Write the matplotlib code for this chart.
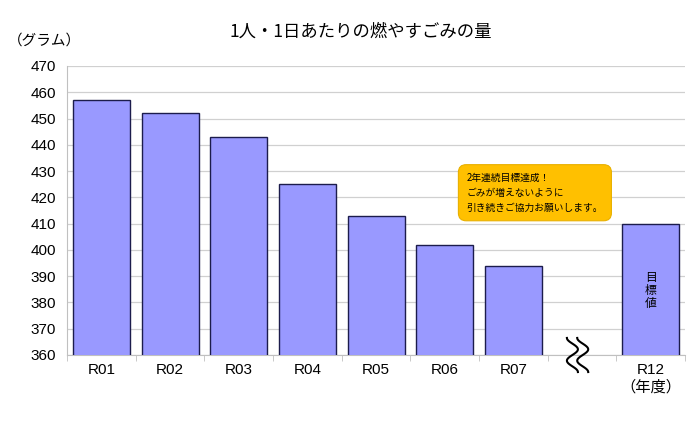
import numpy as np
import matplotlib
matplotlib.use('Agg')
import matplotlib.pyplot as plt

plt.rcParams['font.family'] = ['Noto Sans CJK JP', 'DejaVu Sans']
label_fonts = ['Liberation Sans', 'Noto Sans CJK JP']

# data
categories = ['R01', 'R02', 'R03', 'R04', 'R05', 'R06', 'R07', '', 'R12\n（年度）']
values = [457, 452, 443, 425, 413, 402, 394, np.nan, 410]
yticks = list(range(360, 471, 10))

bar_color = '#9999FF'
edge_color = '#1c1c4c'

fig = plt.figure(figsize=(6.9, 4.29), dpi=100)
ax = fig.add_axes([0.0971, 0.1725, 0.8957, 0.6737])

x = np.arange(len(categories))
ax.bar(x, values, width=0.83, color=bar_color, edgecolor=edge_color, linewidth=1.0, zorder=3)

ax.set_ylim(360, 470)
ax.set_xlim(-0.5, len(categories) - 0.5)
ax.set_yticks(yticks)
ax.set_yticklabels([str(t) for t in yticks], fontsize=11, family=label_fonts)
ax.yaxis.grid(True, color='#d0d0d0', linewidth=0.9, zorder=0)
ax.tick_params(axis='y', length=0, pad=8)

ax.set_xticks(x)
ax.set_xticklabels(categories, fontsize=11, linespacing=1.25, family=label_fonts)
ax.set_xticks(np.arange(-0.5, len(categories), 1), minor=True)
ax.tick_params(axis='x', which='major', length=0, pad=6)
ax.tick_params(axis='x', which='minor', length=4, color='#c0c0c0')

for s in ['top', 'right']:
    ax.spines[s].set_visible(False)
for s in ['left', 'bottom']:
    ax.spines[s].set_color('#c0c0c0')

# break marks in the empty slot
trans = ax.get_xaxis_transform()
t = np.linspace(0, 1, 80)
for x0 in [6.78, 6.93]:
    xs = x0 + 0.16 * (1 - np.cos(3 * np.pi * t)) / 2
    ys = 0.059 - 0.118 * t
    ax.plot(xs, ys, color='black', linewidth=1.5, transform=trans, clip_on=False, zorder=5)

# target label in the R12 bar
ax.text(8, 384.5, '目\n標\n値', ha='center', va='center', fontsize=8.5, linespacing=1.0, zorder=4)

# callout
ax.text(5.32, 429.3, '2年連続目標達成！\nごみが増えないように\n引き続きご協力お願いします。',
        ha='left', va='top', fontsize=7, linespacing=1.6, zorder=6,
        bbox=dict(boxstyle='round,pad=0.85,rounding_size=0.8', fc='#FFC000', ec='#E8B000', lw=0.8))

fig.text(0.523, 0.925, '1人・1日あたりの燃やすごみの量', ha='center', va='center', fontsize=12.5)
fig.text(0.065, 0.905, '（グラム）', ha='center', va='center', fontsize=10.5)

fig.savefig('out.png', dpi=100)
